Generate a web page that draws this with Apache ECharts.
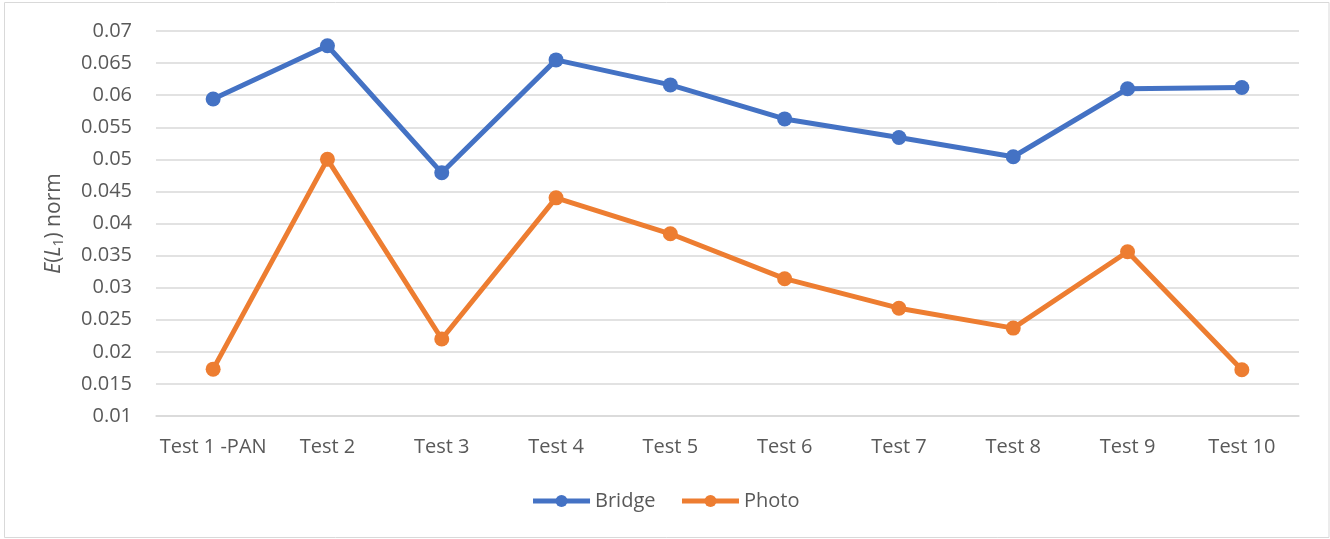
<!DOCTYPE html>
<html>
<head>
<meta charset="utf-8">
<script src="https://cdn.jsdelivr.net/npm/echarts@6/dist/echarts.min.js"></script>
<style>
html,body{margin:0;padding:0;background:#fff;}
#c{width:1330px;height:539px;}
</style>
</head>
<body>
<div id="c"></div>
<script>
var categories = ['Test 1 -PAN','Test 2','Test 3','Test 4','Test 5','Test 6','Test 7','Test 8','Test 9','Test 10'];
var bridge = [0.0594,0.0677,0.0479,0.0655,0.0616,0.0563,0.0534,0.0504,0.0610,0.0612];
var photo  = [0.0173,0.0500,0.0220,0.0440,0.0384,0.0314,0.0268,0.0237,0.0356,0.0172];
var yMin = 0.01, yMax = 0.07, yStep = 0.005;

var FONT = 'Open Sans';
var chart = echarts.init(document.getElementById('c'));
chart.setOption({
  animation:false,
  textStyle:{fontFamily:FONT},
  graphic:[{type:'rect',shape:{x:4.5,y:2.5,width:1324.5,height:535},style:{fill:'none',stroke:'#d9d9d9',lineWidth:1},silent:true}],
  grid:{left:156,right:31,top:31,bottom:123},
  legend:{
    bottom:23,left:'center',itemWidth:57,itemHeight:15,itemGap:24,
    lineStyle:{width:5},
    textStyle:{fontFamily:FONT,fontSize:20,color:'#595959'},
    data:['Bridge','Photo']
  },
  xAxis:{
    type:'category',data:categories,boundaryGap:true,
    axisLine:{lineStyle:{color:'#d9d9d9',width:1.5}},
    axisTick:{show:false},
    axisLabel:{fontFamily:FONT,fontSize:20,color:'#595959',margin:21,interval:0}
  },
  yAxis:{
    type:'value',min:yMin,max:yMax,interval:yStep,
    axisLine:{show:false},axisTick:{show:false},
    splitLine:{lineStyle:{color:'#d9d9d9',width:1.5}},
    axisLabel:{fontFamily:FONT,fontSize:20,color:'#595959',margin:24,
      formatter:function(v){return String(parseFloat(v.toFixed(4)));}},
    name:'{i|E}{n|(}{i|L}{s|1}{n|) norm}',
    nameLocation:'middle',nameGap:90,nameRotate:90,
    nameTextStyle:{
      rich:{
        i:{fontFamily:FONT,fontSize:21,fontStyle:'italic',color:'#595959'},
        n:{fontFamily:FONT,fontSize:21,color:'#595959'},
        s:{fontFamily:FONT,fontSize:14,color:'#595959',padding:[10,0,0,0]}
      }
    }
  },
  series:[
    {name:'Bridge',type:'line',data:bridge,symbol:'circle',symbolSize:15,
     lineStyle:{color:'#4472c4',width:5},itemStyle:{color:'#4472c4'}},
    {name:'Photo',type:'line',data:photo,symbol:'circle',symbolSize:15,
     lineStyle:{color:'#ed7d31',width:5},itemStyle:{color:'#ed7d31'}}
  ]
});
</script>
</body>
</html>
